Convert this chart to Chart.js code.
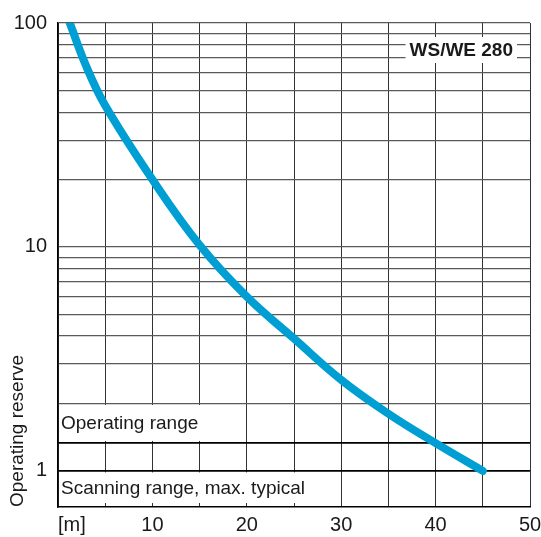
<!DOCTYPE html>
<html>
<head>
<meta charset="utf-8">
<script src="https://cdn.jsdelivr.net/npm/chart.js@4.4.0/dist/chart.umd.min.js"></script>
<style>
  html, body { margin: 0; padding: 0; background: #fff; }
  #wrap { width: 541px; height: 537px; }
</style>
</head>
<body>
<div id="wrap"><canvas id="ch1"></canvas></div>
<script>
// distance [m] vs operating reserve
const distances = [1.25, 3, 5, 10, 15, 20, 25, 30, 35, 40, 45];
const reserve = [100, 64, 42.8, 20, 10.2, 6.0, 3.9, 2.55, 1.8, 1.33, 1];

const xLabels = [10, 20, 30, 40, 50];
const yLabels = [1, 10, 100];
const operatingLimit = 1.34;
const deviceName = 'WS/WE 280';

const FONT = "'Liberation Sans', Arial, sans-serif";

// log grid: 1..9, 10..90, 100 plus the operating range line
var yGrid = [];
for (let d = 1; d <= 10; d *= 10) {
  for (let k = 1; k <= 9; k++) yGrid.push(k * d);
}
yGrid.push(100);
yGrid.push(operatingLimit);

const isStrong = v => v === 1 || v === operatingLimit;

const labelPlugin = {
  id: 'rangeLabels',
  beforeDatasetsDraw(chart) {
    const {ctx, chartArea: a, scales: {x, y}} = chart;
    ctx.save();
    ctx.font = '19px ' + FONT;
    ctx.textBaseline = 'middle';
    ctx.textAlign = 'left';

    // Operating range (between 2 and the operating limit line)
    let t = 'Operating range';
    let top = y.getPixelForValue(2) + 1.5;
    let bot = y.getPixelForValue(operatingLimit) - 1.5;
    let w = ctx.measureText(t).width;
    ctx.fillStyle = '#fff';
    ctx.fillRect(a.left + 1, top, w + 6, bot - top);
    ctx.fillStyle = '#1a1a1a';
    ctx.fillText(t, a.left + 3, (top + bot) / 2 + 1);

    // Scanning range (below 1)
    t = 'Scanning range, max. typical';
    top = y.getPixelForValue(1) + 1.5;
    bot = a.bottom - 4;
    w = ctx.measureText(t).width;
    ctx.fillStyle = '#fff';
    ctx.fillRect(a.left + 1, top, w + 6, bot - top);
    ctx.fillStyle = '#1a1a1a';
    ctx.fillText(t, a.left + 3, (top + bot) / 2 + 1);

    // device name box
    ctx.font = 'bold 19px ' + FONT;
    ctx.textAlign = 'center';
    w = ctx.measureText(deviceName).width;
    const bx = a.right - 13 - (w + 8);
    ctx.fillStyle = '#fff';
    ctx.fillRect(bx, a.top + 14, w + 8, 26);
    ctx.fillStyle = '#1a1a1a';
    ctx.fillText(deviceName, bx + (w + 8) / 2, a.top + 28);
    ctx.restore();
  },
  afterDraw(chart) {
    const {ctx, scales: {x}} = chart;
    ctx.save();
    ctx.font = '20px ' + FONT;
    ctx.fillStyle = '#1a1a1a';
    ctx.textAlign = 'left';
    ctx.textBaseline = 'middle';
    ctx.fillText('[m]', x.getPixelForValue(0), x.top + 18);
    ctx.restore();
  }
};

var ctx = document.getElementById('ch1').getContext('2d');

var chart = new Chart(ctx, {
  type: 'line',
  data: {
    datasets: [{
      data: distances.map((d, i) => ({x: d, y: reserve[i]})),
      borderColor: '#009fd3',
      borderWidth: 8,
      borderCapStyle: 'round',
      tension: 0.4,
      pointRadius: 0,
      fill: false
    }]
  },
  options: {
    responsive: true,
    maintainAspectRatio: false,
    animation: false,
    devicePixelRatio: 1,
    layout: { padding: { top: 21, right: 0, left: 0, bottom: 0 } },
    plugins: {
      legend: { display: false },
      tooltip: { enabled: false }
    },
    scales: {
      x: {
        type: 'linear',
        min: 0,
        max: 50,
        afterFit: s => { s.height = 30; s.paddingRight = 11; },
        ticks: {
          stepSize: 5,
          autoSkip: false,
          maxRotation: 0,
          padding: 6,
          color: '#1a1a1a',
          font: { family: FONT, size: 20 },
          callback: v => xLabels.includes(v) ? String(v) : ''
        },
        grid: { color: '#333', lineWidth: 1, drawTicks: false },
        border: { color: '#000', width: 1.5 }
      },
      y: {
        type: 'logarithmic',
        min: 0.69,
        max: 100,
        afterFit: s => { s.width = 58; },
        afterBuildTicks: s => { s.ticks = yGrid.map(v => ({value: v})); },
        ticks: {
          autoSkip: false,
          padding: 11,
          color: '#1a1a1a',
          font: { family: FONT, size: 20 },
          callback: v => yLabels.includes(v) ? String(v) : ''
        },
        grid: {
          drawTicks: false,
          color: c => (c.tick && isStrong(c.tick.value)) ? '#000' : '#5a5a5a',
          lineWidth: c => (c.tick && isStrong(c.tick.value)) ? 1.8 : 1.2
        },
        border: { color: '#000', width: 1.5 },
        title: {
          display: true,
          text: 'Operating reserve',
          align: 'start',
          color: '#1a1a1a',
          font: { family: FONT, size: 19 },
          padding: { top: 6, bottom: 0 }
        }
      }
    }
  },
  plugins: [labelPlugin]
});
</script>
</body>
</html>
